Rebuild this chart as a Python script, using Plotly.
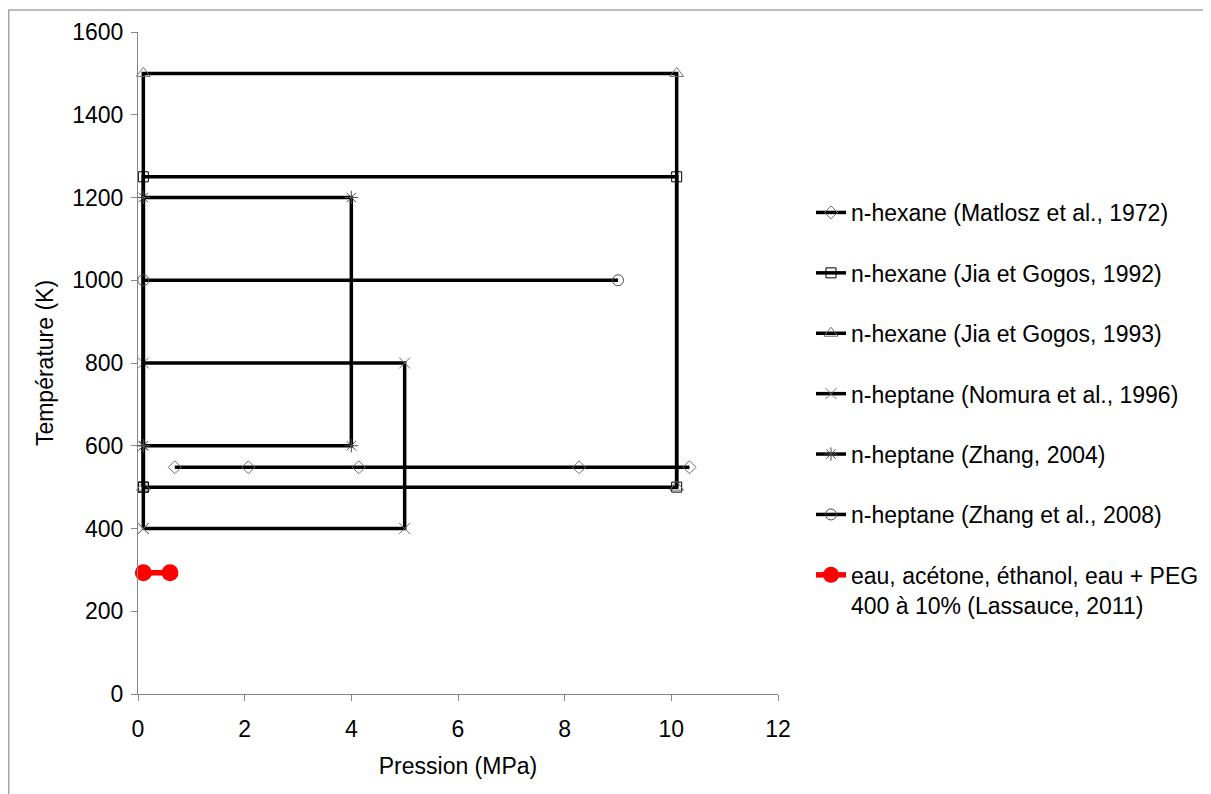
import plotly.graph_objects as go

# ---- data ----
matlosz_p = [0.69, 2.07, 4.14, 8.27, 10.34]
matlosz_t = [548, 548, 548, 548, 548]

jia92_p = [0.1, 10.1, 10.1, 0.1, 0.1]
jia92_t = [500, 500, 1250, 1250, 500]

jia93_p = [0.1, 0.1, 10.1, 10.1]
jia93_t = [500, 1500, 1500, 500]

nomura_p = [0.1, 5, 5, 0.1, 0.1]
nomura_t = [400, 400, 800, 800, 400]

zhang04_p = [0.1, 4, 4, 0.1, 0.1]
zhang04_t = [600, 600, 1200, 1200, 600]

zhang08_p = [0.1, 9]
zhang08_t = [1000, 1000]

lassauce_p = [0.1, 0.6]
lassauce_t = [293, 293]

names = [
    "n-hexane (Matlosz et al., 1972)",
    "n-hexane (Jia et Gogos, 1992)",
    "n-hexane (Jia et Gogos, 1993)",
    "n-heptane (Nomura et al., 1996)",
    "n-heptane (Zhang, 2004)",
    "n-heptane (Zhang et al., 2008)",
    "eau, acétone, éthanol, eau + PEG<br>400 à 10% (Lassauce, 2011)",
]

x_ticks = [0, 2, 4, 6, 8, 10, 12]
y_ticks = [0, 200, 400, 600, 800, 1000, 1200, 1400, 1600]

FONT = "Liberation Sans, Arial, sans-serif"
FS = 23
OFF = 8                      # page body margin
W, H = 1211 - OFF, 794 - OFF
L, R, T, B = 138 - OFF, 778 - OFF, 32 - OFF, 694 - OFF

fig = go.Figure()

series = [
    (matlosz_p, matlosz_t, "diamond-open", 10, "#6e6e6e"),
    (jia92_p, jia92_t, "square-open", 10, "#000000"),
    (jia93_p, jia93_t, "triangle-up-open", 12, "#6e6e6e"),
    (nomura_p, nomura_t, "x-thin-open", 11, "#6e6e6e"),
    (zhang04_p, zhang04_t, "asterisk-open", 11, "#4a4a4a"),
    (zhang08_p, zhang08_t, "circle-open", 11, "#4a4a4a"),
]
for i, (px, ty, sym, sz, mc) in enumerate(series):
    fig.add_trace(go.Scatter(
        x=px, y=ty, mode="lines+markers", name=names[i],
        line=dict(color="black", width=3.5),
        marker=dict(symbol=sym, size=sz, color=mc, line=dict(width=1, color=mc)),
        cliponaxis=False, legendgroup=f"g{i}",
    ))

fig.add_trace(go.Scatter(
    x=lassauce_p, y=lassauce_t, mode="lines+markers", name=names[6],
    line=dict(color="red", width=5.5),
    marker=dict(symbol="circle", size=17, color="red"),
    cliponaxis=False, legendgroup="g6",
))

axis_common = dict(
    showline=True, linecolor="#868686", linewidth=1,
    ticks="outside", ticklen=6, tickcolor="#868686",
    showgrid=False, zeroline=False,
    tickfont=dict(family=FONT, size=FS, color="black"),
)

fig.update_layout(
    width=W, height=H,
    margin=dict(l=L, r=W - R, t=T, b=H - B, pad=0, autoexpand=False),
    paper_bgcolor="white", plot_bgcolor="white",
    font=dict(family=FONT, size=FS, color="black"),
    xaxis=dict(range=[0, 12], tickvals=x_ticks, ticklabelstandoff=8,
               title=dict(text="Pression (MPa)", font=dict(family=FONT, size=FS), standoff=17),
               **axis_common),
    yaxis=dict(range=[0, 1600], tickvals=y_ticks, ticklabelstandoff=3,
               title=dict(text="Température (K)", font=dict(family=FONT, size=FS), standoff=12),
               **axis_common),
    legend=dict(
        x=(803 - L) / (R - L), xanchor="left",
        y=(B - 183) / (B - T), yanchor="top",
        font=dict(family=FONT, size=FS, color="black"),
        itemwidth=30, tracegroupgap=27.5, traceorder="grouped",
        valign="top", bgcolor="rgba(0,0,0,0)",
    ),
    showlegend=True,
)

# outer chart frame: only its top and left edges fall inside the picture
fig.add_shape(type="line", xref="paper", yref="paper",
              x0=(0 - L) / (R - L), x1=(W + 40 - L) / (R - L),
              y0=(B - 2) / (B - T), y1=(B - 2) / (B - T),
              line=dict(color="#a6a6a6", width=1.5), layer="below")
fig.add_shape(type="line", xref="paper", yref="paper",
              x0=(0.75 - L) / (R - L), x1=(0.75 - L) / (R - L),
              y0=(B - 2) / (B - T), y1=(B - H - 40) / (B - T),
              line=dict(color="#a6a6a6", width=1.5), layer="below")

fig.write_html("out.html")
